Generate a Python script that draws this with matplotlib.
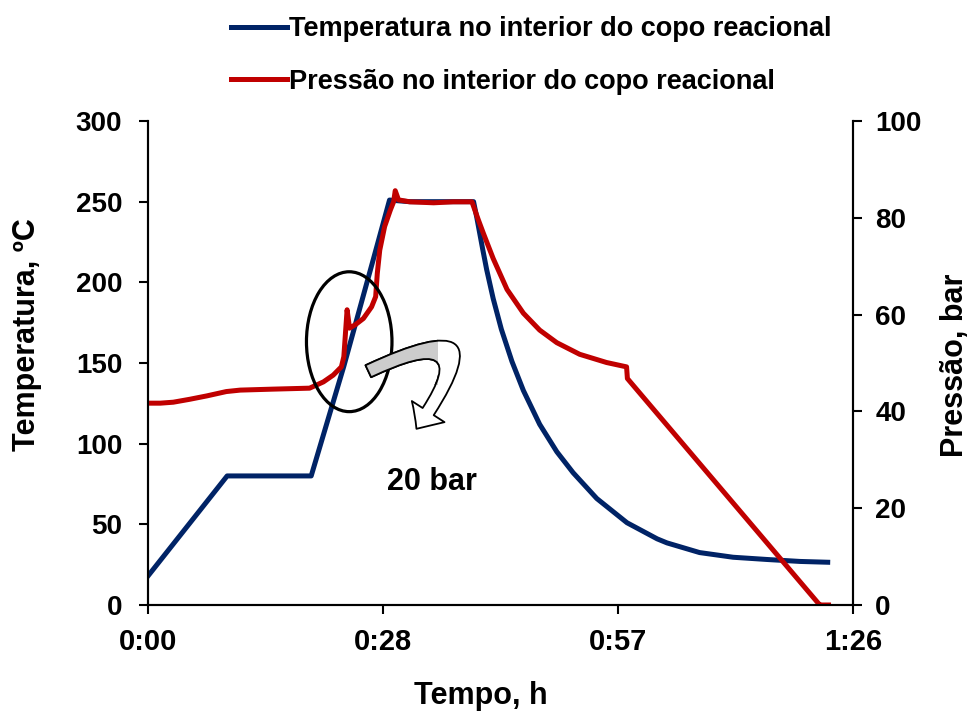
import matplotlib
matplotlib.use("Agg")
import matplotlib.pyplot as plt
from matplotlib.patches import Ellipse, FancyArrowPatch, Rectangle, ArrowStyle

plt.rcParams["font.family"] = ["Liberation Sans", "DejaVu Sans"]
plt.rcParams["font.weight"] = "bold"

# time in minutes
temp_t = [0, 9.7, 12.0, 15.0, 20.0, 24.0, 27.6, 29.6, 32.0, 35.0, 38.0, 39.9,
          40.3, 41.0, 41.5, 42.3, 43.3, 44.6, 46.0, 48.0, 50.1, 52.1, 55.0,
          58.7, 62.4, 63.6, 67.6, 71.7, 75.9, 79.9, 83.3]
temp_c = [18, 80, 80, 80, 80, 148, 214, 251, 250, 250, 250, 250,
          240, 221, 208, 190, 171, 151, 133, 112, 95, 82, 66,
          51, 41, 38.5, 32.5, 29.6, 28.2, 27, 26.5]

pres_t = [0, 1.5, 3.1, 5.1, 7.2, 9.6, 11.3, 15.3, 19.8, 21.5, 22.7, 23.7,
          24.0, 24.4, 24.7, 25.4, 26.4, 27.4, 27.9, 28.1, 28.4, 29.0, 29.7,
          30.1, 30.3, 30.7, 32.1, 35.0, 37.4, 39.7, 40.5, 41.1, 42.3, 44.0,
          46.0, 48.0, 50.1, 52.9, 56.2, 58.65, 58.75, 59.1, 82.15, 82.35, 83.4]
pres_bar = [41.7, 41.7, 41.9, 42.5, 43.2, 44.1, 44.4, 44.6, 44.8, 46.1, 47.5, 49.2,
            51.3, 61.0, 57.2, 57.9, 59.2, 61.6, 63.7, 68.5, 73.3, 78.2, 81.6,
            83.3, 85.6, 83.7, 83.3, 83.1, 83.3, 83.3, 79.5, 76.8, 71.6, 65.2,
            60.3, 56.8, 54.2, 51.8, 50.1, 49.2, 46.8, 46.1, 0.35, 0.0, 0.0]

x_ticks = [0, 28.8, 57.6, 86.4]
x_tick_labels = ["0:00", "0:28", "0:57", "1:26"]
temp_ticks = [0, 50, 100, 150, 200, 250, 300]
pres_ticks = [0, 20, 40, 60, 80, 100]

BLUE = "#002366"
RED = "#C00000"

fig = plt.figure(figsize=(9.78, 7.11), dpi=100)
ax = fig.add_axes([148 / 978, 106 / 711, 705 / 978, 484 / 711])
ax2 = ax.twinx()

l1, = ax.plot(temp_t, temp_c, color=BLUE, lw=3.6,
              label="Temperatura no interior do copo reacional")
l2, = ax2.plot(pres_t, pres_bar, color=RED, lw=3.6,
               label="Pressão no interior do copo reacional")

ax.set_xlim(0, 86.4)
ax.set_ylim(0, 300)
ax2.set_ylim(0, 100)
ax.set_xticks(x_ticks)
ax.set_xticklabels(x_tick_labels)
ax.set_yticks(temp_ticks)
ax2.set_yticks(pres_ticks)

for a in (ax, ax2):
    a.spines["top"].set_visible(False)
    for s in a.spines.values():
        s.set_linewidth(1.5)
ax.tick_params(axis="x", direction="out", length=6.5, width=1.5, pad=10, labelsize=21)
ax.tick_params(axis="y", direction="out", length=6.5, width=1.5, pad=12, labelsize=20)
ax2.tick_params(axis="y", direction="out", length=6.5, width=1.5, pad=9.5, labelsize=20)

ax.set_xlabel("Tempo, h", fontsize=22, fontweight="bold")
ax.xaxis.set_label_coords(0.472, -0.157)
ax.set_ylabel("Temperatura, ºC", fontsize=22, fontweight="bold")
ax.yaxis.set_label_coords(-0.150, 0.558)
ax2.set_ylabel("Pressão, bar", fontsize=22, fontweight="bold")
ax2.yaxis.set_label_coords(1.123, 0.496)

# annotation: ellipse around the spike + curved arrow
ell = Ellipse((24.66, 54.4), width=10.48, height=28.9, fill=False,
              edgecolor="black", lw=2.3, zorder=10)
ax2.add_patch(ell)

style = ArrowStyle.Simple(head_length=15, head_width=28, tail_width=9.5)
arr_kw = dict(arrowstyle=style, connectionstyle="arc3,rad=-1.9",
              shrinkA=0, shrinkB=0, mutation_scale=1, lw=1.3,
              edgecolor="black", zorder=11)
arrow_white = FancyArrowPatch((27.0, 48.3), (32.9, 36.4), facecolor="white", **arr_kw)
ax2.add_patch(arrow_white)
arrow_gray = FancyArrowPatch((27.0, 48.3), (32.9, 36.4), facecolor="#cccccc", **arr_kw)
ax2.add_patch(arrow_gray)
clip = Rectangle((25.2, 45.5), 10.3, 11.5, transform=ax2.transData)
arrow_gray.set_clip_path(clip)

ax2.text(0.403, 0.2376, "20 bar", transform=ax2.transAxes, fontsize=22,
         fontweight="bold", ha="center", va="baseline")

fig.legend([l1, l2], [l1.get_label(), l2.get_label()], loc="upper left",
           bbox_to_anchor=(231 / 978, 1 - 16 / 711), frameon=False, fontsize=19.5,
           handlelength=2.05, handletextpad=0.1, labelspacing=0.98,
           borderpad=0, borderaxespad=0)

fig.savefig("out.png", dpi=100)
